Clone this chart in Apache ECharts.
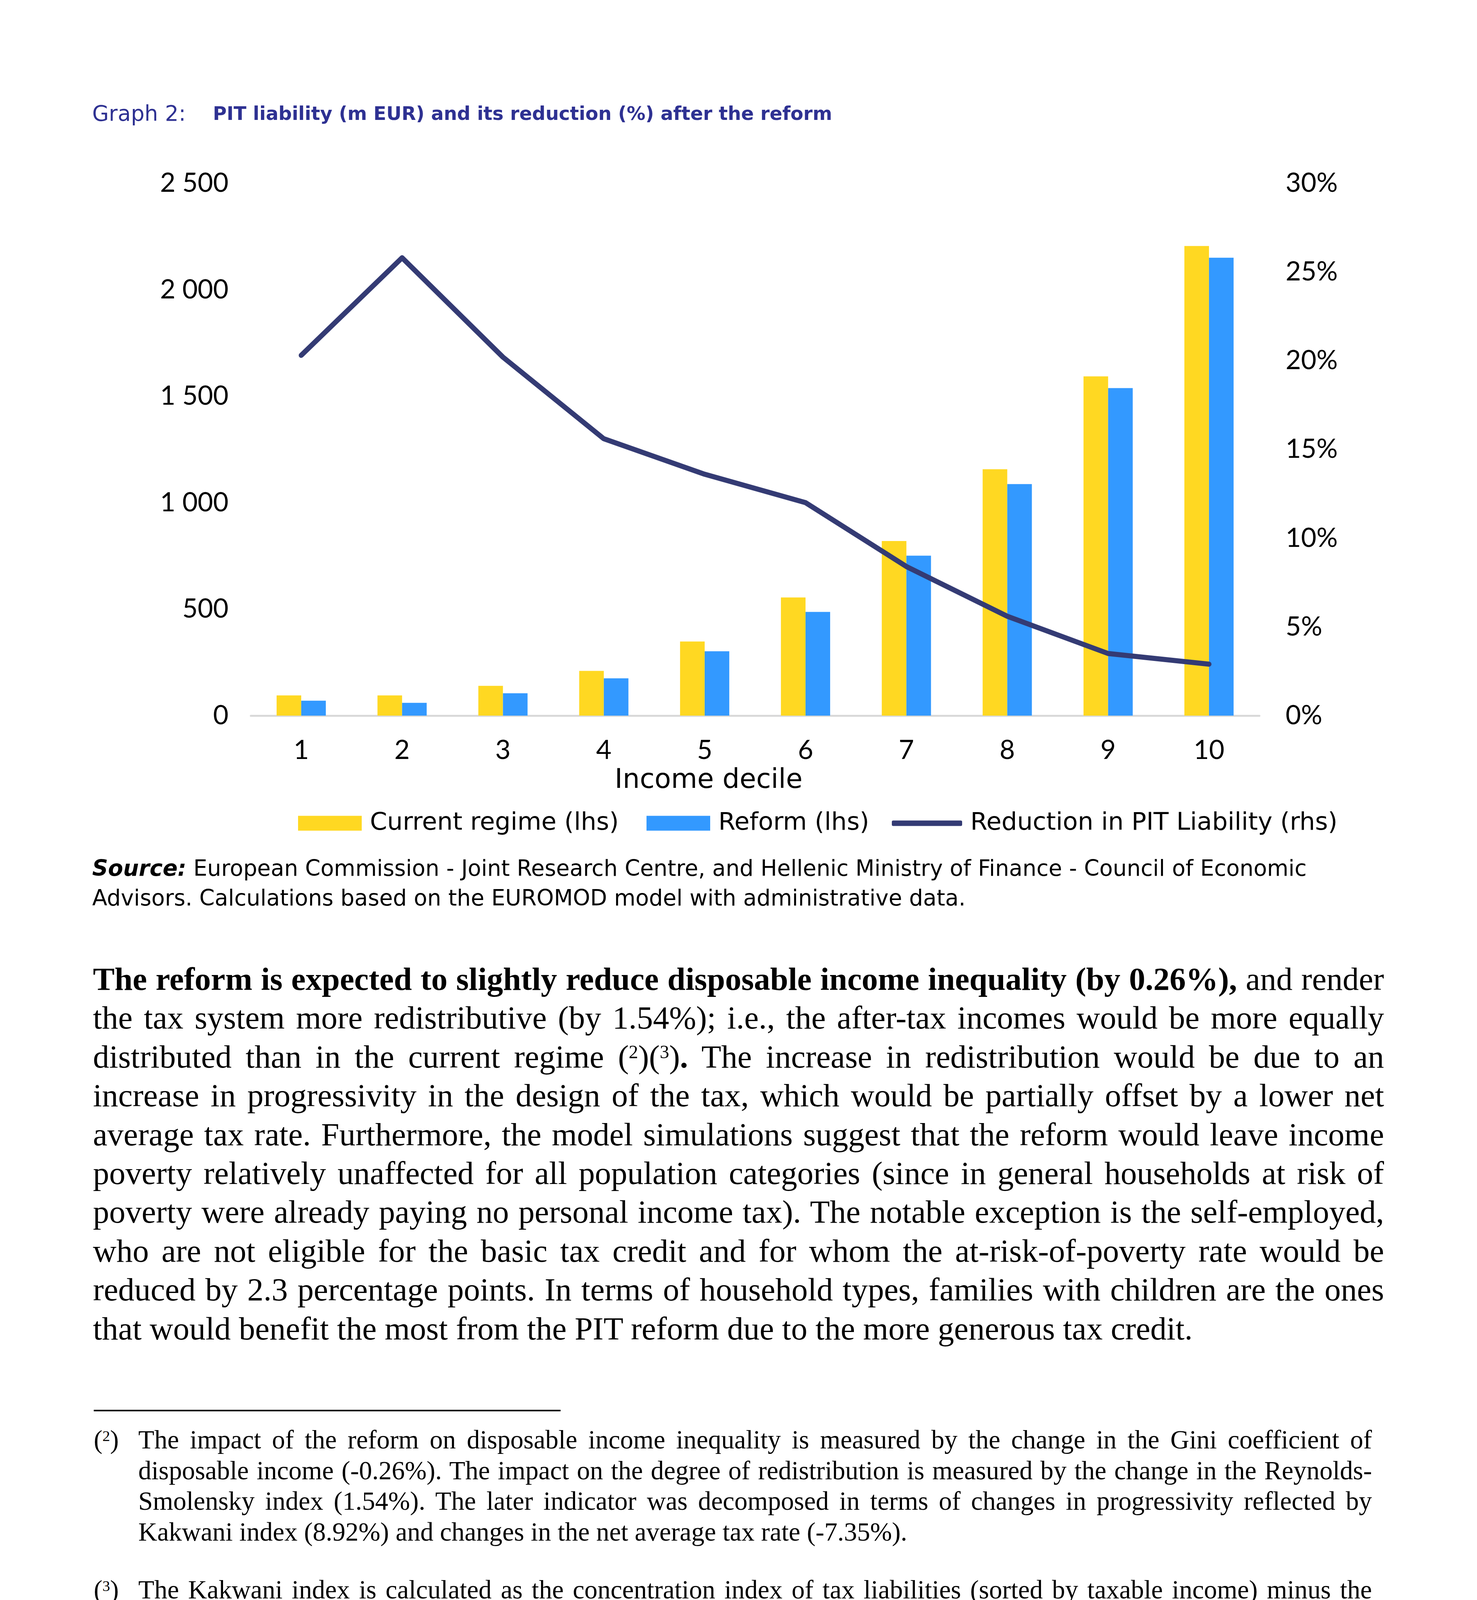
<!DOCTYPE html>
<html>
<head>
<meta charset="utf-8">
<script src="https://cdn.jsdelivr.net/npm/echarts/dist/echarts.min.js"></script>
<style>
html,body{margin:0;padding:0;background:#fff;}
body{width:3781px;height:5695px;position:relative;overflow:hidden;}
#chart{position:absolute;left:0;top:0;width:3781px;height:2400px;}
.src{position:absolute;left:236px;font-family:'DejaVu Sans',sans-serif;font-size:56.3px;line-height:76px;color:#000;}
.src div{white-space:nowrap;}
.body{position:absolute;left:238px;top:2457px;width:3305px;font-family:'Liberation Serif','Times New Roman',serif;font-size:83px;line-height:99.4px;color:#000;}
.body div{text-align:justify;text-align-last:justify;}
.body div.last{text-align:left;text-align-last:left;}
.fn{position:absolute;left:354px;width:3158px;font-family:'Liberation Serif','Times New Roman',serif;font-size:67px;line-height:78.5px;color:#000;}
.fn div{text-align:justify;text-align-last:justify;}
.fn div.last{text-align:left;text-align-last:left;}
.fnnum{position:absolute;left:240px;font-family:'Liberation Serif','Times New Roman',serif;font-size:67px;line-height:78.5px;color:#000;}
sup{font-size:0.58em;vertical-align:0.5em;line-height:0;}
.rule{position:absolute;left:240px;top:3609px;width:1195px;height:4px;background:#000;}
</style>
</head>
<body>
<div id="chart"></div>

<div class="src" style="top:2185px;">
  <div><b><i>Source:</i></b> European Commission - Joint Research Centre, and Hellenic Ministry of Finance - Council of Economic</div>
  <div>Advisors. Calculations based on the EUROMOD model with administrative data.</div>
</div>

<div class="body">
  <div><b>The reform is expected to slightly reduce disposable income inequality (by 0.26%),</b> and render</div>
  <div>the tax system more redistributive (by 1.54%); i.e., the after-tax incomes would be more equally</div>
  <div>distributed than in the current regime (<sup>2</sup>)(<sup>3</sup>)<b>.</b> The increase in redistribution would be due to an</div>
  <div>increase in progressivity in the design of the tax, which would be partially offset by a lower net</div>
  <div>average tax rate. Furthermore, the model simulations suggest that the reform would leave income</div>
  <div>poverty relatively unaffected for all population categories (since in general households at risk of</div>
  <div>poverty were already paying no personal income tax). The notable exception is the self-employed,</div>
  <div>who are not eligible for the basic tax credit and for whom the at-risk-of-poverty rate would be</div>
  <div>reduced by 2.3 percentage points. In terms of household types, families with children are the ones</div>
  <div class="last">that would benefit the most from the PIT reform due to the more generous tax credit.</div>
</div>

<div class="rule"></div>

<div class="fnnum" style="top:3646px;">(<sup>2</sup>)</div>
<div class="fn" style="top:3646px;">
  <div>The impact of the reform on disposable income inequality is measured by the change in the Gini coefficient of</div>
  <div>disposable income (-0.26%). The impact on the degree of redistribution is measured by the change in the Reynolds-</div>
  <div>Smolensky index (1.54%). The later indicator was decomposed in terms of changes in progressivity reflected by</div>
  <div class="last">Kakwani index (8.92%) and changes in the net average tax rate (-7.35%).</div>
</div>

<div class="fnnum" style="top:4030px;">(<sup>3</sup>)</div>
<div class="fn" style="top:4030px;">
  <div>The Kakwani index is calculated as the concentration index of tax liabilities (sorted by taxable income) minus the</div>
  <div>Gini coefficient of taxable income while the Reynolds-Smolensky index is computed as the difference between the</div>
  <div>Gini coefficients of taxable income before and after PIT (higher values indicate higher redistributive impact). As</div>
  <div>regards at-risk-of-poverty rate figure, this reflects the percentage of individuals whose equivalised disposable income</div>
  <div class="last">is under the poverty line, measured as 60% of the median equivalised disposable income</div>
</div>

<script>
// ---- data ----
const deciles = ['1', '2', '3', '4', '5', '6', '7', '8', '9', '10'];
const currentRegime = [95, 95, 140, 210, 348, 555, 820, 1157, 1593, 2205];
const reform = [70, 60, 105, 175, 302, 487, 751, 1087, 1538, 2150];
const reductionPct = [20.3, 25.8, 20.2, 15.6, 13.6, 12.0, 8.4, 5.6, 3.5, 2.9];
const lhsTicks = [0, 500, 1000, 1500, 2000, 2500];
const rhsTicks = [0, 5, 10, 15, 20, 25, 30];
const seriesNames = ['Current regime (lhs)', 'Reform (lhs)', 'Reduction in PIT Liability (rhs)'];

const NUMFONT = 'Lato';
const TXTFONT = 'DejaVu Sans';
const YELLOW = '#FFD822';
const BLUE = '#3399FF';
const NAVY = '#343B74';
const TITLE = '#2E3192';

const chart = echarts.init(document.getElementById('chart'), null, {renderer: 'canvas'});

const legendBase = {
  top: 2071,
  itemHeight: 38,
  itemWidth: 163,
  selectedMode: false,
  textStyle: {fontFamily: TXTFONT, fontSize: 63, color: '#000', padding: [0, 0, 0, 16]}
};

chart.setOption({
  animation: false,
  textStyle: {fontFamily: NUMFONT},
  grid: {left: 642, top: 469, width: 2582, height: 1363},
  xAxis: {
    type: 'category',
    data: deciles,
    axisLine: {lineStyle: {color: '#D9D9D9', width: 5}},
    axisTick: {show: false},
    axisLabel: {fontFamily: NUMFONT, fontSize: 68, color: '#000', margin: 55}
  },
  yAxis: [
    {
      type: 'value',
      min: lhsTicks[0], max: lhsTicks[lhsTicks.length - 1], interval: lhsTicks[1] - lhsTicks[0],
      axisLine: {show: false}, axisTick: {show: false}, splitLine: {show: false},
      axisLabel: {
        fontFamily: NUMFONT, fontSize: 68, color: '#000', margin: 57,
        formatter: v => String(v).replace(/\B(?=(\d{3})+(?!\d))/g, ' ')
      }
    },
    {
      type: 'value', position: 'right',
      min: rhsTicks[0], max: rhsTicks[rhsTicks.length - 1], interval: rhsTicks[1] - rhsTicks[0],
      axisLine: {show: false}, axisTick: {show: false}, splitLine: {show: false},
      axisLabel: {fontFamily: NUMFONT, fontSize: 68, color: '#000', margin: 67, formatter: '{value}%'}
    }
  ],
  legend: [
    Object.assign({}, legendBase, {left: 758, data: [{name: seriesNames[0], icon: 'rect'}]}),
    Object.assign({}, legendBase, {left: 1650, data: [{name: seriesNames[1], icon: 'rect'}]}),
    Object.assign({}, legendBase, {left: 2278, itemWidth: 180, itemHeight: 14, data: [{name: seriesNames[2], icon: 'roundRect'}]})
  ],
  series: [
    {name: seriesNames[0], type: 'bar', data: currentRegime, barWidth: 63, barGap: '0%', itemStyle: {color: YELLOW}},
    {name: seriesNames[1], type: 'bar', data: reform, barWidth: 63, barGap: '0%', itemStyle: {color: BLUE}},
    {
      name: seriesNames[2], type: 'line', yAxisIndex: 1, data: reductionPct,
      symbol: 'none', z: 5,
      lineStyle: {color: NAVY, width: 13, cap: 'round', join: 'round'},
      itemStyle: {color: NAVY}
    }
  ],
  graphic: [
    {type: 'text', x: 236, y: 295, style: {text: 'Graph 2:', fontFamily: TXTFONT, fontSize: 55, fill: TITLE, verticalAlign: 'middle'}},
    {type: 'text', x: 545, y: 295, style: {text: 'PIT liability (m EUR) and its reduction (%) after the reform', fontFamily: TXTFONT, fontWeight: 'bold', fontSize: 48, fill: TITLE, verticalAlign: 'middle'}},
    {type: 'text', x: 1814, y: 1999, style: {text: 'Income decile', fontFamily: TXTFONT, fontSize: 69, fill: '#000', align: 'center', verticalAlign: 'middle'}}
  ]
});
</script>
</body>
</html>
